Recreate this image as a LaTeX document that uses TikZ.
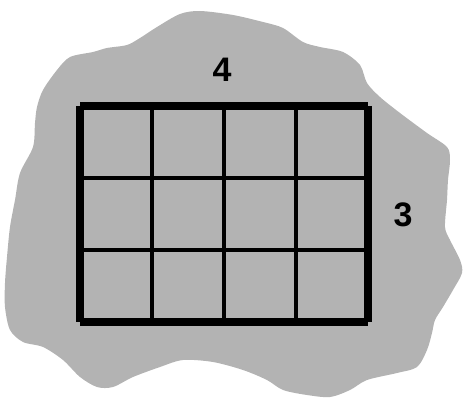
\documentclass[tikz,border=0pt]{standalone}
\usepackage{fontspec}
\setmainfont{Liberation Sans}
\definecolor{blobgray}{HTML}{B3B3B3}
\tikzset{
  blob/.style={fill=blobgray,draw=none},
  outer/.style={line width=8pt,line cap=butt},
  inner/.style={line width=4pt,line cap=butt},
  lbl/.style={font=\fontsize{34}{34}\selectfont\bfseries,inner sep=0pt}
}
\begin{document}
\begin{tikzpicture}[x=1pt,y=-1pt]
\useasboundingbox (0,0) rectangle (464,412);
\fill[blob] plot[smooth cycle,tension=0.5] coordinates {
(180,14) (200,11) (233,15) (263,22) (283,28) (303,42) (320,47) (343,52)
(360,65) (367,83) (380,97) (400,113) (427,133) (447,147) (450,160) (448,180)
(447,200) (445,227) (450,240) (460,260) (462,273) (453,290) (443,307) (435,320)
(432,333) (427,350) (417,367) (397,373) (367,380) (350,390) (330,397) (307,395)
(283,390) (267,380) (243,370) (213,362) (183,360) (160,367) (133,377) (113,387)
(97,387) (80,377) (63,360) (43,347) (23,342) (10,330) (5,307) (5,283)
(7,257) (10,227) (15,200) (20,173) (33,147) (35,123) (37,107) (43,90)
(57,70) (70,57) (93,52) (107,48) (127,45) (140,38) (157,27)
};
% grid coordinates
\coordinate (tl) at (80,106);
\coordinate (tr) at (368,106);
\coordinate (bl) at (80,322);
\coordinate (br) at (368,322);
% inner lines
\foreach \x in {152,224,296} { \coordinate (vt\x) at (\x,106); \coordinate (vb\x) at (\x,322); \draw[inner] (vt\x) -- (vb\x); }
\foreach \y in {178,250} { \coordinate (hl\y) at (80,\y); \coordinate (hr\y) at (368,\y); \draw[inner] (hl\y) -- (hr\y); }
% outer border as separate lines (notched corners)
\draw[outer] (tl) -- (tr);
\draw[outer] (bl) -- (br);
\draw[outer] (tl) -- (bl);
\draw[outer] (tr) -- (br);
\node[lbl] (four) at (222,70) {4};
\node[lbl] (three) at (403,215) {3};
\end{tikzpicture}
\end{document}
